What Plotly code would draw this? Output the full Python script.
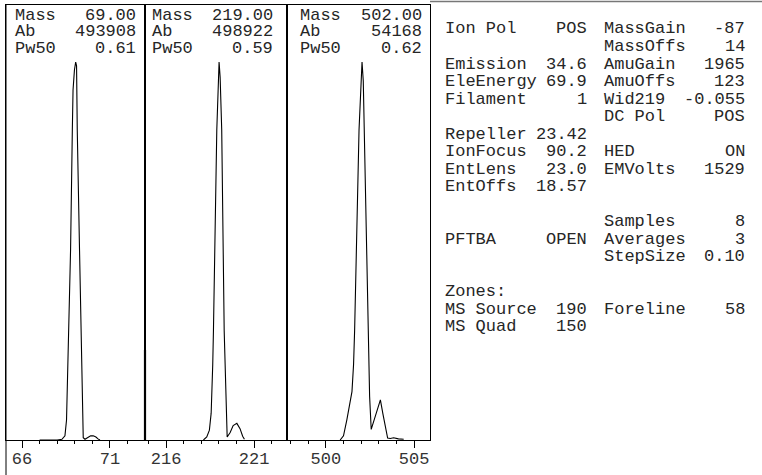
import plotly.graph_objects as go

W, H = 762, 475

# ---------------- data (relative intensity, % of peak) ----------------
mass_69 = [67.00, 68.00, 68.27, 68.44, 68.53, 68.64, 68.76, 68.86, 68.90, 68.98, 69.05, 69.10,
           69.14, 69.27, 69.35, 69.43, 69.48, 69.58, 69.75, 69.90, 70.05, 70.20, 70.32, 70.43]
int_69 = [0, 0, 0.2, 1.1, 5.3, 29.1, 50.3, 82.0, 92.6, 97.9, 100, 99.0,
          82.0, 50.0, 29.0, 5.0, 0.6, 0.2, 0.8, 1.1, 1.1, 0.8, 0.3, 0]

mass_219 = [218.12, 218.31, 218.46, 218.56, 218.65, 218.69, 218.88, 218.95, 219.01, 219.07,
            219.16, 219.30, 219.47, 219.64, 219.81, 220.02, 220.20, 220.35, 220.45]
int_219 = [0, 0.8, 2.6, 7.1, 20, 29, 82, 95, 100, 96,
           82, 29, 0.8, 2.0, 3.8, 4.4, 3.0, 1.0, 0.2]

mass_502 = [500.81, 501.00, 501.19, 501.38, 501.48, 501.57, 501.63, 501.88, 501.98, 502.05,
            502.12, 502.18, 502.39, 502.48, 502.57, 503.09, 503.23, 503.37, 503.50, 503.65,
            503.84, 504.11, 504.41]
int_502 = [0, 1.1, 5.3, 10.6, 12.8, 20, 29, 82, 96, 100,
           95, 82, 29, 11.5, 2.8, 10.6, 7, 3.5, 0.5, 0.4,
           0.6, 0.3, 0.2]

panel_info = [
    [("Mass", "69.00"), ("Ab", "493908"), ("Pw50", "0.61")],
    [("Mass", "219.00"), ("Ab", "498922"), ("Pw50", "0.59")],
    [("Mass", "502.00"), ("Ab", "54168"), ("Pw50", "0.62")],
]
x_ranges = [[65.09, 72.99], [214.8, 222.87], [497.8, 505.9]]
tick_starts = [66, 216, 500]

tune_rows = [
    ("Ion Pol", "POS", "MassGain", "-87"),
    ("", "", "MassOffs", "14"),
    ("Emission", "34.6", "AmuGain", "1965"),
    ("EleEnergy", "69.9", "AmuOffs", "123"),
    ("Filament", "1", "Wid219", "-0.055"),
    ("", "", "DC Pol", "POS"),
    ("Repeller", "23.42", "", ""),
    ("IonFocus", "90.2", "HED", "ON"),
    ("EntLens", "23.0", "EMVolts", "1529"),
    ("EntOffs", "18.57", "", ""),
    ("", "", "", ""),
    ("", "", "Samples", "8"),
    ("PFTBA", "OPEN", "Averages", "3"),
    ("", "", "StepSize", "0.10"),
    ("", "", "", ""),
    ("Zones:", "", "", ""),
    ("MS Source", "190", "Foreline", "58"),
    ("MS Quad", "150", "", ""),
]

# ---------------- layout helpers ----------------
FONT = "Courier New, Liberation Mono, monospace"
FS = 17
TXT = "#262626"

def px(x):
    return x / W

def py(y):
    return 1 - y / H

panel_px = [(6, 145), (145, 287), (287, 430)]
TOP, BOT = 5, 440

fig = go.Figure()
series = [(mass_69, int_69), (mass_219, int_219), (mass_502, int_502)]
for i, (m, v) in enumerate(series):
    sfx = "" if i == 0 else str(i + 1)
    fig.add_trace(go.Scatter(x=m, y=v, mode="lines", line=dict(color="black", width=1.1),
                             xaxis="x" + sfx, yaxis="y" + sfx, showlegend=False,
                             hoverinfo="skip"))

layout = dict(width=W, height=H, margin=dict(l=0, r=0, t=0, b=0),
              paper_bgcolor="white", plot_bgcolor="white", showlegend=False,
              font=dict(family=FONT, size=FS, color=TXT))

for i in range(3):
    sfx = "" if i == 0 else str(i + 1)
    x0, x1 = panel_px[i]
    layout["xaxis" + sfx] = dict(
        domain=[px(x0), px(x1)], range=x_ranges[i], anchor="y" + sfx,
        showgrid=False, zeroline=False, showline=True, linecolor="black", linewidth=1,
        mirror=True, ticks="outside", ticklen=7, tickwidth=1, tickcolor="black",
        tick0=tick_starts[i], dtick=5, tickfont=dict(family=FONT, size=FS, color="#333"),
        ticklabelstandoff=-4,
        minor=dict(ticks="outside", ticklen=3, tickwidth=1, tickcolor="black",
                   tick0=tick_starts[i], dtick=1),
        fixedrange=True, automargin=False)
    layout["yaxis" + sfx] = dict(
        domain=[py(BOT), py(TOP)], range=[0, 115.1], anchor="x" + sfx,
        showgrid=False, zeroline=False, showline=True, linecolor="black", linewidth=1,
        mirror=True, ticks="", showticklabels=False, fixedrange=True, automargin=False)

fig.update_layout(**layout)

ann = []
# panel header texts
label_left = [13.3, 150, 298.3]
value_right = [138.3, 275, 424]
row_y0 = 15.5
row_dy = 16.3
for i, rows in enumerate(panel_info):
    for r, (lab, val) in enumerate(rows):
        yy = row_y0 + r * row_dy
        ann.append(dict(x=px(label_left[i]), y=py(yy), xref="paper", yref="paper",
                        text=lab, showarrow=False, xanchor="left", yanchor="middle",
                        font=dict(family=FONT, size=FS, color=TXT)))
        ann.append(dict(x=px(value_right[i]), y=py(yy), xref="paper", yref="paper",
                        text=val, showarrow=False, xanchor="right", yanchor="middle",
                        font=dict(family=FONT, size=FS, color=TXT)))

# tune parameter texts
colA_l, colA_r, colB_l, colB_r = 443.3, 588.5, 601.7, 747
t_y0 = 29.0
t_dy = 17.5
for r, (la, va, lb, vb) in enumerate(tune_rows):
    yy = t_y0 + r * t_dy
    for txt, xx, anc in ((la, colA_l, "left"), (va, colA_r, "right"),
                         (lb, colB_l, "left"), (vb, colB_r, "right")):
        if txt:
            ann.append(dict(x=px(xx), y=py(yy), xref="paper", yref="paper",
                            text=txt.replace(" ", "&nbsp;"), showarrow=False,
                            xanchor=anc, yanchor="middle",
                            font=dict(family=FONT, size=FS, color=TXT)))
fig.update_layout(annotations=ann)

shapes = [
    # outer left border running to the bottom of the page
    dict(type="line", xref="paper", yref="paper", x0=px(6), x1=px(6), y0=py(TOP), y1=0,
         line=dict(color="black", width=1)),
    # top border of the page
    dict(type="line", xref="paper", yref="paper", x0=px(430), x1=1, y0=py(1.5), y1=py(1.5),
         line=dict(color="#777", width=1.5)),
    # thick segment at left edge of the second panel
    dict(type="line", xref="paper", yref="paper", x0=px(145), x1=px(145), y0=py(350), y1=py(BOT),
         line=dict(color="black", width=2.2)),
]
fig.update_layout(shapes=shapes)

fig.write_html("out.html", config={"displayModeBar": False},
               post_script="document.body.style.margin='0';document.body.style.overflow='hidden';")
